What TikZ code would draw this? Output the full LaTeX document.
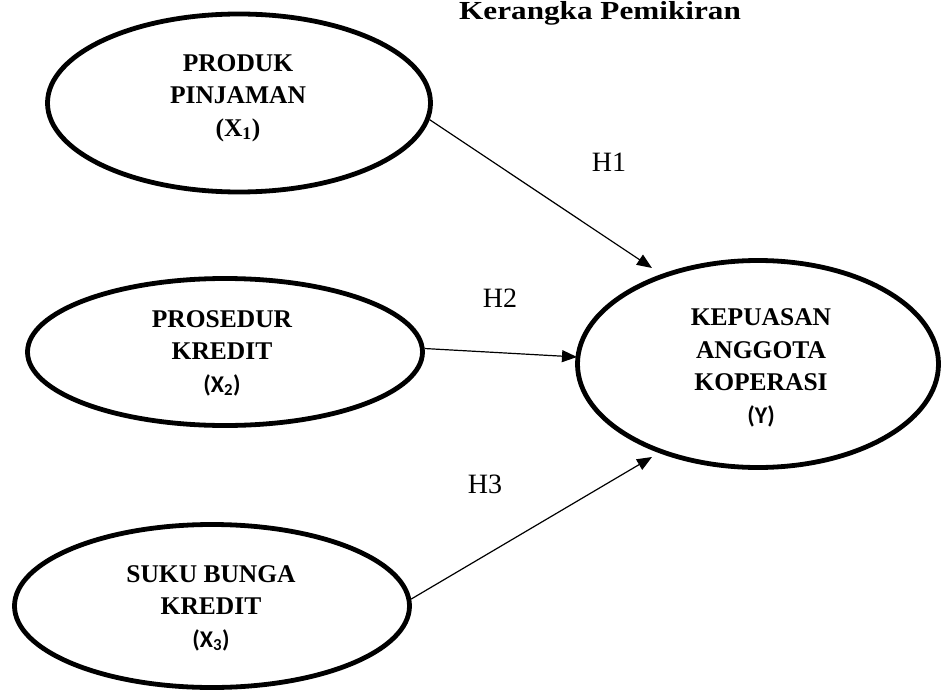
\documentclass[tikz,border=0pt]{standalone}
\usepackage{fontspec}
\setmainfont{Liberation Serif}
\newfontfamily\calibri{Carlito}
\usetikzlibrary{shapes.geometric,arrows.meta}
\tikzset{
  var/.style={ellipse, draw=black, line width=4.8pt, inner sep=0pt},
  lbl/.style={align=center, font=\bfseries\fontsize{25.5}{32.5}\selectfont},
  hyp/.style={font=\fontsize{28}{30}\selectfont},
  arr/.style={line width=1.2pt, -{Triangle[length=15pt,width=12pt]}},
}
\begin{document}
\begin{tikzpicture}[x=1pt,y=-1pt]
\useasboundingbox (0,0) rectangle (942,690);
\node[anchor=base, font=\bfseries\fontsize{26}{28}\selectfont, inner sep=0pt] (title) at (600,20) {\scalebox{1.2}[1]{Kerangka Pemikiran}};
\node[var, minimum width=383pt, minimum height=178pt] (e1) at (239,103) {};
\node[var, minimum width=395pt, minimum height=147pt] (e2) at (225,352) {};
\node[var, minimum width=361pt, minimum height=207pt] (e3) at (758,364) {};
\node[var, minimum width=395pt, minimum height=163pt] (e4) at (212,606) {};
\node[lbl] (l1) at (238,98) {PRODUK\\PINJAMAN\\(X\textsubscript{1})};
\node[lbl] (l2) at (222,353) {PROSEDUR\\KREDIT\\{\calibri\fontsize{24}{32.5}\selectfont (X\textsubscript{2})}};
\node[lbl] (l3) at (761,368) {KEPUASAN\\ANGGOTA\\KOPERASI\\{\calibri\fontsize{24}{32.5}\selectfont (Y)}};
\node[lbl] (l4) at (211,608) {SUKU BUNGA\\KREDIT\\{\calibri\fontsize{24}{32.5}\selectfont (X\textsubscript{3})}};
\coordinate (t1) at (652,268);
\coordinate (t2) at (577,357);
\coordinate (t3) at (652,457);
\draw[arr] (e1.-5) -- (t1);
\draw[arr] (e2.1) -- (t2);
\draw[arr] (e4.2) -- (t3);
\node[hyp] (h1) at (609,162) {H1};
\node[hyp] (h2) at (500,298) {H2};
\node[hyp] (h3) at (485,484) {H3};
\end{tikzpicture}
\end{document}
